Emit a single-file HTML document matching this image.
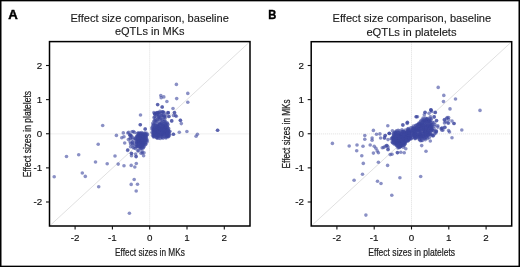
<!DOCTYPE html>
<html><head><meta charset="utf-8"><style>
html,body{margin:0;padding:0;background:#fff;width:520px;height:267px;overflow:hidden}
svg{display:block;font-family:"Liberation Sans", sans-serif;will-change:transform}
</style></head><body>
<svg width="520" height="267" viewBox="0 0 520 267">
<rect x="0" y="0" width="520" height="267" fill="#fff"/>
<line x1="149.7" y1="41.6" x2="149.7" y2="226.0" stroke="#dedede" stroke-width="1" stroke-dasharray="1,1"/>
<line x1="49.5" y1="133.9" x2="250.0" y2="133.9" stroke="#dedede" stroke-width="1" stroke-dasharray="1,1"/>
<line x1="49.5" y1="226.0" x2="250.0" y2="41.6" stroke="#dcdcdc" stroke-width="0.9"/>
<g fill="#3c469f" fill-opacity="0.6"><circle cx="176.4" cy="84.4" r="1.8"/><circle cx="187.8" cy="93.4" r="1.8"/><circle cx="176.7" cy="98.6" r="1.8"/><circle cx="187.8" cy="102.2" r="1.8"/><circle cx="160.8" cy="95.5" r="1.8"/><circle cx="163.8" cy="96.9" r="1.8"/><circle cx="161.2" cy="97.7" r="1.8"/><circle cx="166.9" cy="101.5" r="1.8"/><circle cx="157.6" cy="104.5" r="1.8"/><circle cx="162.2" cy="106.7" r="1.8"/><circle cx="173.0" cy="108.5" r="1.8"/><circle cx="154.6" cy="113.8" r="1.8"/><circle cx="158.0" cy="112.9" r="1.8"/><circle cx="168.4" cy="112.9" r="1.8"/><circle cx="174.6" cy="112.9" r="1.8"/><circle cx="168.9" cy="116.5" r="1.8"/><circle cx="168.9" cy="116.5" r="1.8"/><circle cx="175.6" cy="115.7" r="1.8"/><circle cx="176.3" cy="116.3" r="1.8"/><circle cx="171.7" cy="120.9" r="1.8"/><circle cx="171.7" cy="120.9" r="1.8"/><circle cx="180.5" cy="120.4" r="1.8"/><circle cx="181.3" cy="123.6" r="1.8"/><circle cx="179.3" cy="132.2" r="1.8"/><circle cx="186.9" cy="131.5" r="1.8"/><circle cx="173.4" cy="134.2" r="1.8"/><circle cx="173.4" cy="134.2" r="1.8"/><circle cx="197.4" cy="134.2" r="1.8"/><circle cx="196.1" cy="136.3" r="1.8"/><circle cx="217.6" cy="130.3" r="1.8"/><circle cx="217.6" cy="130.3" r="1.8"/><circle cx="140.5" cy="115.0" r="1.8"/><circle cx="140.3" cy="124.7" r="1.8"/><circle cx="140.3" cy="124.7" r="1.8"/><circle cx="145.2" cy="129.3" r="1.8"/><circle cx="102.7" cy="125.5" r="1.8"/><circle cx="116.4" cy="135.4" r="1.8"/><circle cx="123.3" cy="132.9" r="1.8"/><circle cx="128.7" cy="132.4" r="1.8"/><circle cx="133.3" cy="131.5" r="1.8"/><circle cx="124.0" cy="136.8" r="1.8"/><circle cx="121.8" cy="137.7" r="1.8"/><circle cx="130.0" cy="135.3" r="1.8"/><circle cx="130.0" cy="135.3" r="1.8"/><circle cx="124.7" cy="143.0" r="1.8"/><circle cx="127.6" cy="150.5" r="1.8"/><circle cx="131.5" cy="153.5" r="1.8"/><circle cx="131.5" cy="155.7" r="1.8"/><circle cx="136.1" cy="156.6" r="1.8"/><circle cx="136.1" cy="156.6" r="1.8"/><circle cx="142.3" cy="153.0" r="1.8"/><circle cx="143.6" cy="155.8" r="1.8"/><circle cx="138.2" cy="150.5" r="1.8"/><circle cx="115.0" cy="156.0" r="1.8"/><circle cx="98.2" cy="144.2" r="1.8"/><circle cx="66.5" cy="156.5" r="1.8"/><circle cx="78.7" cy="154.7" r="1.8"/><circle cx="95.5" cy="162.0" r="1.8"/><circle cx="107.2" cy="163.7" r="1.8"/><circle cx="118.2" cy="164.1" r="1.8"/><circle cx="82.3" cy="173.0" r="1.8"/><circle cx="85.3" cy="176.4" r="1.8"/><circle cx="54.2" cy="176.7" r="1.8"/><circle cx="124.0" cy="165.7" r="1.8"/><circle cx="131.2" cy="165.4" r="1.8"/><circle cx="136.3" cy="163.5" r="1.8"/><circle cx="134.8" cy="167.0" r="1.8"/><circle cx="134.2" cy="179.5" r="1.8"/><circle cx="131.2" cy="184.4" r="1.8"/><circle cx="137.5" cy="184.2" r="1.8"/><circle cx="136.2" cy="191.0" r="1.8"/><circle cx="98.7" cy="186.8" r="1.8"/><circle cx="129.4" cy="213.2" r="1.8"/><circle cx="162.2" cy="107.3" r="1.8"/><circle cx="154.7" cy="114.1" r="1.8"/><circle cx="168.2" cy="112.7" r="1.8"/><circle cx="180.3" cy="120.2" r="1.8"/><circle cx="138.3" cy="132.7" r="1.8"/><circle cx="141.4" cy="132.5" r="1.8"/><circle cx="142.7" cy="133.2" r="1.8"/><circle cx="144.2" cy="133.2" r="1.8"/><circle cx="145.2" cy="133.0" r="1.8"/><circle cx="146.8" cy="133.2" r="1.8"/><circle cx="138.6" cy="133.9" r="1.8"/><circle cx="139.5" cy="133.7" r="1.8"/><circle cx="140.9" cy="133.9" r="1.8"/><circle cx="142.1" cy="134.2" r="1.8"/><circle cx="144.0" cy="134.7" r="1.8"/><circle cx="145.6" cy="134.7" r="1.8"/><circle cx="147.4" cy="134.8" r="1.8"/><circle cx="136.9" cy="136.3" r="1.8"/><circle cx="138.5" cy="135.7" r="1.8"/><circle cx="139.7" cy="135.1" r="1.8"/><circle cx="141.4" cy="135.7" r="1.8"/><circle cx="142.0" cy="134.8" r="1.8"/><circle cx="144.4" cy="136.3" r="1.8"/><circle cx="144.7" cy="136.0" r="1.8"/><circle cx="146.7" cy="135.0" r="1.8"/><circle cx="136.9" cy="136.3" r="1.8"/><circle cx="138.0" cy="136.3" r="1.8"/><circle cx="139.7" cy="136.8" r="1.8"/><circle cx="141.4" cy="137.8" r="1.8"/><circle cx="142.3" cy="137.8" r="1.8"/><circle cx="143.5" cy="136.4" r="1.8"/><circle cx="145.5" cy="136.3" r="1.8"/><circle cx="146.4" cy="136.9" r="1.8"/><circle cx="135.0" cy="138.0" r="1.8"/><circle cx="135.6" cy="139.1" r="1.8"/><circle cx="137.5" cy="139.3" r="1.8"/><circle cx="140.0" cy="138.4" r="1.8"/><circle cx="140.8" cy="138.6" r="1.8"/><circle cx="142.6" cy="138.7" r="1.8"/><circle cx="143.9" cy="138.7" r="1.8"/><circle cx="146.0" cy="138.6" r="1.8"/><circle cx="146.7" cy="138.9" r="1.8"/><circle cx="137.1" cy="140.1" r="1.8"/><circle cx="137.9" cy="139.3" r="1.8"/><circle cx="139.2" cy="140.2" r="1.8"/><circle cx="140.1" cy="140.2" r="1.8"/><circle cx="142.6" cy="139.3" r="1.8"/><circle cx="144.0" cy="140.0" r="1.8"/><circle cx="145.6" cy="139.8" r="1.8"/><circle cx="147.2" cy="140.4" r="1.8"/><circle cx="136.6" cy="142.3" r="1.8"/><circle cx="137.4" cy="141.5" r="1.8"/><circle cx="139.5" cy="141.3" r="1.8"/><circle cx="140.6" cy="141.2" r="1.8"/><circle cx="142.1" cy="141.7" r="1.8"/><circle cx="143.5" cy="141.3" r="1.8"/><circle cx="145.8" cy="140.8" r="1.8"/><circle cx="147.0" cy="141.9" r="1.8"/><circle cx="136.8" cy="142.6" r="1.8"/><circle cx="137.3" cy="142.9" r="1.8"/><circle cx="139.7" cy="142.4" r="1.8"/><circle cx="140.6" cy="142.8" r="1.8"/><circle cx="142.9" cy="142.9" r="1.8"/><circle cx="144.4" cy="142.5" r="1.8"/><circle cx="145.1" cy="143.3" r="1.8"/><circle cx="136.4" cy="144.1" r="1.8"/><circle cx="138.3" cy="145.1" r="1.8"/><circle cx="138.8" cy="144.2" r="1.8"/><circle cx="141.3" cy="144.8" r="1.8"/><circle cx="142.8" cy="144.3" r="1.8"/><circle cx="143.2" cy="144.2" r="1.8"/><circle cx="145.8" cy="144.2" r="1.8"/><circle cx="137.0" cy="145.5" r="1.8"/><circle cx="137.0" cy="146.8" r="1.8"/><circle cx="139.9" cy="146.8" r="1.8"/><circle cx="140.7" cy="146.8" r="1.8"/><circle cx="143.0" cy="145.6" r="1.8"/><circle cx="144.2" cy="146.6" r="1.8"/><circle cx="138.3" cy="146.8" r="1.8"/><circle cx="140.0" cy="147.9" r="1.8"/><circle cx="141.5" cy="148.2" r="1.8"/><circle cx="143.0" cy="147.7" r="1.8"/><circle cx="143.1" cy="147.9" r="1.8"/><circle cx="140.6" cy="148.6" r="1.8"/><circle cx="137.2" cy="133.6" r="1.8"/><circle cx="139.8" cy="133.0" r="1.8"/><circle cx="139.4" cy="135.2" r="1.8"/><circle cx="139.5" cy="134.6" r="1.8"/><circle cx="141.5" cy="134.3" r="1.8"/><circle cx="143.2" cy="134.8" r="1.8"/><circle cx="145.1" cy="134.4" r="1.8"/><circle cx="138.0" cy="136.3" r="1.8"/><circle cx="140.5" cy="136.0" r="1.8"/><circle cx="141.1" cy="135.7" r="1.8"/><circle cx="143.2" cy="136.4" r="1.8"/><circle cx="145.5" cy="136.0" r="1.8"/><circle cx="137.5" cy="138.0" r="1.8"/><circle cx="138.5" cy="137.6" r="1.8"/><circle cx="140.2" cy="138.1" r="1.8"/><circle cx="141.7" cy="138.1" r="1.8"/><circle cx="143.3" cy="137.4" r="1.8"/><circle cx="145.1" cy="138.1" r="1.8"/><circle cx="138.5" cy="140.0" r="1.8"/><circle cx="140.9" cy="139.2" r="1.8"/><circle cx="142.4" cy="139.9" r="1.8"/><circle cx="143.0" cy="139.3" r="1.8"/><circle cx="144.4" cy="139.9" r="1.8"/><circle cx="139.1" cy="141.3" r="1.8"/><circle cx="140.6" cy="141.1" r="1.8"/><circle cx="141.2" cy="141.1" r="1.8"/><circle cx="142.6" cy="140.4" r="1.8"/><circle cx="145.4" cy="140.3" r="1.8"/><circle cx="139.2" cy="142.1" r="1.8"/><circle cx="139.4" cy="143.1" r="1.8"/><circle cx="141.2" cy="143.2" r="1.8"/><circle cx="143.7" cy="143.1" r="1.8"/><circle cx="145.7" cy="142.7" r="1.8"/><circle cx="139.0" cy="144.2" r="1.8"/><circle cx="140.5" cy="143.6" r="1.8"/><circle cx="142.2" cy="144.9" r="1.8"/><circle cx="142.7" cy="143.9" r="1.8"/><circle cx="145.1" cy="144.7" r="1.8"/><circle cx="138.2" cy="146.0" r="1.8"/><circle cx="140.6" cy="145.6" r="1.8"/><circle cx="141.6" cy="145.6" r="1.8"/><circle cx="143.2" cy="145.7" r="1.8"/><circle cx="131.4" cy="135.9" r="1.8"/><circle cx="132.3" cy="137.1" r="1.8"/><circle cx="130.0" cy="138.6" r="1.8"/><circle cx="132.5" cy="139.3" r="1.8"/><circle cx="135.2" cy="138.6" r="1.8"/><circle cx="130.2" cy="142.0" r="1.8"/><circle cx="132.9" cy="142.3" r="1.8"/><circle cx="135.8" cy="141.1" r="1.8"/><circle cx="130.6" cy="143.9" r="1.8"/><circle cx="132.4" cy="143.8" r="1.8"/><circle cx="135.2" cy="144.6" r="1.8"/><circle cx="130.6" cy="146.8" r="1.8"/><circle cx="133.0" cy="147.3" r="1.8"/><circle cx="136.2" cy="146.7" r="1.8"/><circle cx="135.5" cy="148.6" r="1.8"/><circle cx="127.8" cy="133.0" r="1.8"/><circle cx="130.2" cy="134.8" r="1.8"/><circle cx="132.0" cy="131.8" r="1.8"/><circle cx="134.4" cy="132.4" r="1.8"/><circle cx="128.4" cy="139.6" r="1.8"/><circle cx="130.8" cy="137.8" r="1.8"/><circle cx="132.6" cy="142.0" r="1.8"/><circle cx="127.8" cy="149.7" r="1.8"/><circle cx="131.4" cy="153.3" r="1.8"/><circle cx="135.6" cy="154.0" r="1.8"/><circle cx="141.0" cy="153.3" r="1.8"/><circle cx="144.0" cy="152.7" r="1.8"/><circle cx="145.2" cy="128.8" r="1.8"/><circle cx="133.0" cy="145.0" r="1.8"/><circle cx="134.0" cy="148.0" r="1.8"/><circle cx="138.0" cy="151.0" r="1.8"/><circle cx="142.0" cy="151.0" r="1.8"/><circle cx="157.9" cy="112.6" r="1.8"/><circle cx="159.9" cy="111.4" r="1.8"/><circle cx="163.2" cy="112.2" r="1.8"/><circle cx="167.8" cy="112.6" r="1.8"/><circle cx="174.4" cy="112.6" r="1.8"/><circle cx="173.5" cy="115.5" r="1.8"/><circle cx="157.7" cy="104.7" r="1.8"/><circle cx="162.1" cy="111.7" r="1.8"/><circle cx="162.9" cy="111.7" r="1.8"/><circle cx="153.9" cy="112.5" r="1.8"/><circle cx="156.2" cy="113.1" r="1.8"/><circle cx="157.0" cy="112.5" r="1.8"/><circle cx="159.6" cy="112.8" r="1.8"/><circle cx="161.0" cy="113.0" r="1.8"/><circle cx="164.1" cy="112.6" r="1.8"/><circle cx="155.0" cy="113.9" r="1.8"/><circle cx="156.9" cy="114.4" r="1.8"/><circle cx="158.4" cy="115.1" r="1.8"/><circle cx="159.3" cy="114.9" r="1.8"/><circle cx="161.8" cy="115.2" r="1.8"/><circle cx="162.9" cy="115.1" r="1.8"/><circle cx="165.9" cy="114.9" r="1.8"/><circle cx="154.7" cy="116.7" r="1.8"/><circle cx="156.2" cy="115.8" r="1.8"/><circle cx="158.2" cy="116.6" r="1.8"/><circle cx="159.1" cy="117.1" r="1.8"/><circle cx="161.8" cy="115.7" r="1.8"/><circle cx="164.1" cy="115.8" r="1.8"/><circle cx="164.8" cy="116.8" r="1.8"/><circle cx="154.0" cy="117.6" r="1.8"/><circle cx="155.3" cy="118.6" r="1.8"/><circle cx="158.4" cy="118.3" r="1.8"/><circle cx="160.1" cy="117.9" r="1.8"/><circle cx="161.1" cy="118.0" r="1.8"/><circle cx="164.0" cy="117.4" r="1.8"/><circle cx="165.1" cy="117.7" r="1.8"/><circle cx="154.4" cy="120.5" r="1.8"/><circle cx="155.8" cy="120.6" r="1.8"/><circle cx="157.2" cy="119.6" r="1.8"/><circle cx="159.0" cy="119.3" r="1.8"/><circle cx="162.0" cy="120.4" r="1.8"/><circle cx="162.7" cy="119.4" r="1.8"/><circle cx="164.9" cy="120.4" r="1.8"/><circle cx="154.1" cy="121.2" r="1.8"/><circle cx="156.1" cy="121.9" r="1.8"/><circle cx="157.4" cy="121.4" r="1.8"/><circle cx="160.2" cy="121.0" r="1.8"/><circle cx="162.0" cy="122.5" r="1.8"/><circle cx="164.1" cy="121.6" r="1.8"/><circle cx="165.2" cy="121.9" r="1.8"/><circle cx="167.1" cy="122.7" r="1.8"/><circle cx="152.8" cy="123.2" r="1.8"/><circle cx="154.9" cy="123.6" r="1.8"/><circle cx="160.0" cy="123.6" r="1.8"/><circle cx="161.5" cy="123.5" r="1.8"/><circle cx="162.7" cy="123.7" r="1.8"/><circle cx="164.3" cy="123.6" r="1.8"/><circle cx="167.2" cy="123.5" r="1.8"/><circle cx="158.9" cy="124.1" r="1.8"/><circle cx="160.0" cy="124.0" r="1.8"/><circle cx="165.5" cy="123.8" r="1.8"/><circle cx="153.6" cy="124.4" r="1.8"/><circle cx="155.3" cy="124.9" r="1.8"/><circle cx="157.6" cy="125.0" r="1.8"/><circle cx="158.7" cy="125.1" r="1.8"/><circle cx="160.0" cy="124.9" r="1.8"/><circle cx="162.2" cy="124.7" r="1.8"/><circle cx="162.8" cy="125.5" r="1.8"/><circle cx="165.2" cy="124.7" r="1.8"/><circle cx="166.1" cy="125.0" r="1.8"/><circle cx="168.0" cy="124.5" r="1.8"/><circle cx="152.7" cy="125.9" r="1.8"/><circle cx="153.8" cy="125.9" r="1.8"/><circle cx="155.6" cy="125.9" r="1.8"/><circle cx="156.5" cy="125.8" r="1.8"/><circle cx="158.3" cy="126.4" r="1.8"/><circle cx="159.6" cy="125.6" r="1.8"/><circle cx="161.7" cy="126.3" r="1.8"/><circle cx="163.6" cy="125.7" r="1.8"/><circle cx="164.6" cy="126.2" r="1.8"/><circle cx="165.5" cy="127.2" r="1.8"/><circle cx="167.3" cy="125.8" r="1.8"/><circle cx="152.2" cy="127.2" r="1.8"/><circle cx="154.7" cy="127.5" r="1.8"/><circle cx="156.3" cy="127.9" r="1.8"/><circle cx="158.0" cy="127.6" r="1.8"/><circle cx="158.4" cy="127.5" r="1.8"/><circle cx="160.8" cy="128.1" r="1.8"/><circle cx="161.6" cy="127.3" r="1.8"/><circle cx="163.6" cy="128.7" r="1.8"/><circle cx="164.9" cy="127.1" r="1.8"/><circle cx="165.5" cy="127.3" r="1.8"/><circle cx="167.3" cy="127.2" r="1.8"/><circle cx="168.6" cy="128.2" r="1.8"/><circle cx="151.9" cy="128.9" r="1.8"/><circle cx="153.6" cy="129.4" r="1.8"/><circle cx="154.8" cy="130.1" r="1.8"/><circle cx="156.5" cy="128.7" r="1.8"/><circle cx="157.0" cy="129.6" r="1.8"/><circle cx="159.5" cy="128.7" r="1.8"/><circle cx="160.0" cy="130.0" r="1.8"/><circle cx="161.2" cy="129.2" r="1.8"/><circle cx="163.0" cy="129.7" r="1.8"/><circle cx="165.5" cy="128.9" r="1.8"/><circle cx="166.7" cy="129.8" r="1.8"/><circle cx="168.3" cy="129.5" r="1.8"/><circle cx="153.2" cy="130.9" r="1.8"/><circle cx="153.9" cy="130.4" r="1.8"/><circle cx="156.2" cy="131.1" r="1.8"/><circle cx="157.6" cy="130.7" r="1.8"/><circle cx="158.8" cy="130.4" r="1.8"/><circle cx="160.6" cy="130.1" r="1.8"/><circle cx="161.7" cy="131.3" r="1.8"/><circle cx="163.6" cy="130.3" r="1.8"/><circle cx="164.4" cy="131.5" r="1.8"/><circle cx="166.5" cy="131.5" r="1.8"/><circle cx="168.4" cy="130.8" r="1.8"/><circle cx="169.9" cy="131.3" r="1.8"/><circle cx="152.1" cy="132.2" r="1.8"/><circle cx="155.0" cy="131.8" r="1.8"/><circle cx="155.9" cy="131.8" r="1.8"/><circle cx="156.6" cy="132.6" r="1.8"/><circle cx="158.4" cy="131.7" r="1.8"/><circle cx="159.7" cy="132.6" r="1.8"/><circle cx="161.9" cy="131.6" r="1.8"/><circle cx="162.9" cy="133.2" r="1.8"/><circle cx="164.4" cy="132.5" r="1.8"/><circle cx="166.2" cy="132.9" r="1.8"/><circle cx="168.0" cy="132.9" r="1.8"/><circle cx="169.4" cy="131.9" r="1.8"/><circle cx="153.3" cy="133.3" r="1.8"/><circle cx="153.5" cy="134.7" r="1.8"/><circle cx="155.3" cy="134.5" r="1.8"/><circle cx="156.6" cy="133.9" r="1.8"/><circle cx="158.4" cy="134.4" r="1.8"/><circle cx="160.5" cy="134.1" r="1.8"/><circle cx="162.2" cy="134.5" r="1.8"/><circle cx="163.1" cy="134.1" r="1.8"/><circle cx="164.7" cy="133.3" r="1.8"/><circle cx="166.8" cy="134.1" r="1.8"/><circle cx="168.3" cy="133.4" r="1.8"/><circle cx="169.4" cy="133.9" r="1.8"/><circle cx="152.6" cy="135.4" r="1.8"/><circle cx="153.6" cy="135.5" r="1.8"/><circle cx="156.2" cy="135.3" r="1.8"/><circle cx="157.5" cy="135.6" r="1.8"/><circle cx="158.3" cy="135.2" r="1.8"/><circle cx="161.1" cy="135.1" r="1.8"/><circle cx="161.7" cy="134.7" r="1.8"/><circle cx="162.8" cy="134.9" r="1.8"/><circle cx="165.5" cy="135.8" r="1.8"/><circle cx="166.9" cy="136.2" r="1.8"/><circle cx="168.0" cy="136.1" r="1.8"/><circle cx="169.4" cy="135.3" r="1.8"/><circle cx="153.5" cy="136.9" r="1.8"/><circle cx="154.7" cy="136.8" r="1.8"/><circle cx="156.6" cy="137.6" r="1.8"/><circle cx="157.0" cy="137.6" r="1.8"/><circle cx="158.3" cy="136.3" r="1.8"/><circle cx="160.7" cy="136.6" r="1.8"/><circle cx="161.8" cy="137.1" r="1.8"/><circle cx="162.6" cy="137.3" r="1.8"/><circle cx="164.4" cy="136.8" r="1.8"/><circle cx="166.1" cy="137.3" r="1.8"/><circle cx="168.2" cy="136.6" r="1.8"/><circle cx="168.7" cy="136.6" r="1.8"/><circle cx="157.1" cy="137.9" r="1.8"/><circle cx="158.5" cy="138.3" r="1.8"/><circle cx="160.3" cy="138.5" r="1.8"/><circle cx="163.0" cy="138.3" r="1.8"/><circle cx="166.0" cy="138.0" r="1.8"/><circle cx="158.1" cy="126.5" r="1.8"/><circle cx="163.0" cy="126.1" r="1.8"/><circle cx="166.5" cy="126.5" r="1.8"/><circle cx="154.3" cy="127.9" r="1.8"/><circle cx="156.4" cy="128.1" r="1.8"/><circle cx="156.9" cy="127.0" r="1.8"/><circle cx="159.3" cy="128.1" r="1.8"/><circle cx="160.5" cy="128.1" r="1.8"/><circle cx="162.2" cy="127.2" r="1.8"/><circle cx="163.2" cy="126.8" r="1.8"/><circle cx="165.5" cy="128.2" r="1.8"/><circle cx="167.5" cy="127.5" r="1.8"/><circle cx="153.0" cy="129.4" r="1.8"/><circle cx="154.0" cy="129.2" r="1.8"/><circle cx="155.2" cy="128.7" r="1.8"/><circle cx="157.6" cy="130.0" r="1.8"/><circle cx="159.0" cy="129.1" r="1.8"/><circle cx="160.3" cy="129.1" r="1.8"/><circle cx="162.6" cy="129.1" r="1.8"/><circle cx="164.4" cy="128.6" r="1.8"/><circle cx="165.0" cy="129.2" r="1.8"/><circle cx="166.8" cy="129.8" r="1.8"/><circle cx="154.2" cy="130.9" r="1.8"/><circle cx="155.7" cy="130.4" r="1.8"/><circle cx="157.6" cy="131.5" r="1.8"/><circle cx="158.3" cy="131.1" r="1.8"/><circle cx="160.3" cy="130.8" r="1.8"/><circle cx="162.7" cy="131.5" r="1.8"/><circle cx="163.9" cy="130.3" r="1.8"/><circle cx="166.0" cy="130.3" r="1.8"/><circle cx="166.7" cy="131.3" r="1.8"/><circle cx="168.2" cy="130.4" r="1.8"/><circle cx="153.2" cy="133.1" r="1.8"/><circle cx="153.8" cy="132.2" r="1.8"/><circle cx="155.4" cy="131.8" r="1.8"/><circle cx="156.9" cy="133.2" r="1.8"/><circle cx="158.2" cy="132.0" r="1.8"/><circle cx="160.0" cy="131.7" r="1.8"/><circle cx="162.1" cy="132.8" r="1.8"/><circle cx="164.2" cy="132.6" r="1.8"/><circle cx="165.8" cy="131.6" r="1.8"/><circle cx="166.6" cy="133.1" r="1.8"/><circle cx="167.8" cy="132.0" r="1.8"/><circle cx="154.2" cy="133.3" r="1.8"/><circle cx="155.3" cy="134.7" r="1.8"/><circle cx="156.7" cy="134.6" r="1.8"/><circle cx="158.4" cy="134.8" r="1.8"/><circle cx="160.8" cy="134.2" r="1.8"/><circle cx="161.5" cy="133.3" r="1.8"/><circle cx="164.1" cy="133.5" r="1.8"/><circle cx="164.8" cy="134.5" r="1.8"/><circle cx="167.5" cy="133.3" r="1.8"/><circle cx="153.9" cy="136.4" r="1.8"/><circle cx="155.3" cy="135.0" r="1.8"/><circle cx="156.7" cy="135.0" r="1.8"/><circle cx="158.7" cy="136.3" r="1.8"/><circle cx="159.8" cy="135.1" r="1.8"/><circle cx="164.5" cy="135.2" r="1.8"/><circle cx="166.9" cy="135.9" r="1.8"/><circle cx="168.2" cy="134.8" r="1.8"/></g>
<rect x="49.5" y="41.6" width="200.5" height="184.4" fill="none" stroke="#000" stroke-width="1.5"/>
<line x1="75.10" y1="226.0" x2="75.10" y2="229.5" stroke="#111" stroke-width="1.1"/>
<line x1="46.0" y1="201.99" x2="49.5" y2="201.99" stroke="#111" stroke-width="1.1"/>
<text x="75.10" y="240.9" font-size="9.8" text-anchor="middle" fill="#111" stroke="#111" stroke-width="0.15">-2</text>
<text x="42.30" y="205.19" font-size="9.8" text-anchor="end" fill="#111" stroke="#111" stroke-width="0.15">-2</text>
<line x1="112.40" y1="226.0" x2="112.40" y2="229.5" stroke="#111" stroke-width="1.1"/>
<line x1="46.0" y1="167.87" x2="49.5" y2="167.87" stroke="#111" stroke-width="1.1"/>
<text x="112.40" y="240.9" font-size="9.8" text-anchor="middle" fill="#111" stroke="#111" stroke-width="0.15">-1</text>
<text x="42.30" y="171.07" font-size="9.8" text-anchor="end" fill="#111" stroke="#111" stroke-width="0.15">-1</text>
<line x1="149.70" y1="226.0" x2="149.70" y2="229.5" stroke="#111" stroke-width="1.1"/>
<line x1="46.0" y1="133.75" x2="49.5" y2="133.75" stroke="#111" stroke-width="1.1"/>
<text x="149.70" y="240.9" font-size="9.8" text-anchor="middle" fill="#111" stroke="#111" stroke-width="0.15">0</text>
<text x="42.30" y="136.95" font-size="9.8" text-anchor="end" fill="#111" stroke="#111" stroke-width="0.15">0</text>
<line x1="187.00" y1="226.0" x2="187.00" y2="229.5" stroke="#111" stroke-width="1.1"/>
<line x1="46.0" y1="99.63" x2="49.5" y2="99.63" stroke="#111" stroke-width="1.1"/>
<text x="187.00" y="240.9" font-size="9.8" text-anchor="middle" fill="#111" stroke="#111" stroke-width="0.15">1</text>
<text x="42.30" y="102.83" font-size="9.8" text-anchor="end" fill="#111" stroke="#111" stroke-width="0.15">1</text>
<line x1="224.30" y1="226.0" x2="224.30" y2="229.5" stroke="#111" stroke-width="1.1"/>
<line x1="46.0" y1="65.51" x2="49.5" y2="65.51" stroke="#111" stroke-width="1.1"/>
<text x="224.30" y="240.9" font-size="9.8" text-anchor="middle" fill="#111" stroke="#111" stroke-width="0.15">2</text>
<text x="42.30" y="68.71" font-size="9.8" text-anchor="end" fill="#111" stroke="#111" stroke-width="0.15">2</text>
<line x1="411.5" y1="41.7" x2="411.5" y2="226.0" stroke="#dedede" stroke-width="1" stroke-dasharray="1,1"/>
<line x1="311.2" y1="133.9" x2="511.7" y2="133.9" stroke="#dedede" stroke-width="1" stroke-dasharray="1,1"/>
<line x1="311.2" y1="226.0" x2="511.7" y2="41.7" stroke="#dcdcdc" stroke-width="0.9"/>
<g fill="#3c469f" fill-opacity="0.6"><circle cx="438.2" cy="87.4" r="1.8"/><circle cx="443.8" cy="95.4" r="1.8"/><circle cx="455.5" cy="99.0" r="1.8"/><circle cx="443.5" cy="101.6" r="1.8"/><circle cx="450.0" cy="108.9" r="1.8"/><circle cx="480.0" cy="110.4" r="1.8"/><circle cx="431.0" cy="110.1" r="1.8"/><circle cx="431.0" cy="110.1" r="1.8"/><circle cx="431.7" cy="111.4" r="1.8"/><circle cx="425.0" cy="112.3" r="1.8"/><circle cx="435.2" cy="112.4" r="1.8"/><circle cx="429.0" cy="113.2" r="1.8"/><circle cx="416.2" cy="116.8" r="1.8"/><circle cx="416.2" cy="116.8" r="1.8"/><circle cx="417.5" cy="116.8" r="1.8"/><circle cx="424.3" cy="114.8" r="1.8"/><circle cx="430.3" cy="116.8" r="1.8"/><circle cx="434.3" cy="116.9" r="1.8"/><circle cx="447.2" cy="117.5" r="1.8"/><circle cx="444.5" cy="119.5" r="1.8"/><circle cx="448.6" cy="119.5" r="1.8"/><circle cx="436.5" cy="120.6" r="1.8"/><circle cx="452.0" cy="121.0" r="1.8"/><circle cx="454.0" cy="123.5" r="1.8"/><circle cx="454.0" cy="123.5" r="1.8"/><circle cx="444.5" cy="122.9" r="1.8"/><circle cx="447.9" cy="122.9" r="1.8"/><circle cx="437.8" cy="125.8" r="1.8"/><circle cx="441.8" cy="128.3" r="1.8"/><circle cx="445.0" cy="127.4" r="1.8"/><circle cx="441.9" cy="130.3" r="1.8"/><circle cx="448.6" cy="130.6" r="1.8"/><circle cx="449.5" cy="132.0" r="1.8"/><circle cx="461.8" cy="130.0" r="1.8"/><circle cx="452.0" cy="137.7" r="1.8"/><circle cx="407.4" cy="122.2" r="1.8"/><circle cx="402.7" cy="124.9" r="1.8"/><circle cx="436.4" cy="131.7" r="1.8"/><circle cx="435.7" cy="133.0" r="1.8"/><circle cx="433.0" cy="135.7" r="1.8"/><circle cx="387.8" cy="125.8" r="1.8"/><circle cx="403.0" cy="125.1" r="1.8"/><circle cx="407.2" cy="123.5" r="1.8"/><circle cx="392.4" cy="130.7" r="1.8"/><circle cx="389.3" cy="133.2" r="1.8"/><circle cx="385.2" cy="135.5" r="1.8"/><circle cx="385.2" cy="135.5" r="1.8"/><circle cx="384.5" cy="137.9" r="1.8"/><circle cx="384.5" cy="137.9" r="1.8"/><circle cx="388.0" cy="139.6" r="1.8"/><circle cx="386.8" cy="145.6" r="1.8"/><circle cx="386.8" cy="145.6" r="1.8"/><circle cx="383.8" cy="147.4" r="1.8"/><circle cx="388.0" cy="149.7" r="1.8"/><circle cx="397.6" cy="152.7" r="1.8"/><circle cx="400.8" cy="152.3" r="1.8"/><circle cx="404.2" cy="152.7" r="1.8"/><circle cx="405.8" cy="148.8" r="1.8"/><circle cx="392.0" cy="154.3" r="1.8"/><circle cx="420.4" cy="140.8" r="1.8"/><circle cx="430.3" cy="141.0" r="1.8"/><circle cx="421.7" cy="145.6" r="1.8"/><circle cx="426.0" cy="151.2" r="1.8"/><circle cx="419.4" cy="139.7" r="1.8"/><circle cx="436.3" cy="130.7" r="1.8"/><circle cx="441.0" cy="128.8" r="1.8"/><circle cx="443.0" cy="130.1" r="1.8"/><circle cx="373.4" cy="130.4" r="1.8"/><circle cx="376.5" cy="134.2" r="1.8"/><circle cx="379.9" cy="133.9" r="1.8"/><circle cx="364.8" cy="135.5" r="1.8"/><circle cx="364.8" cy="139.3" r="1.8"/><circle cx="372.1" cy="138.0" r="1.8"/><circle cx="372.1" cy="140.3" r="1.8"/><circle cx="380.6" cy="138.0" r="1.8"/><circle cx="389.3" cy="133.5" r="1.8"/><circle cx="389.3" cy="133.5" r="1.8"/><circle cx="332.4" cy="143.4" r="1.8"/><circle cx="349.2" cy="146.0" r="1.8"/><circle cx="357.0" cy="145.0" r="1.8"/><circle cx="363.0" cy="146.3" r="1.8"/><circle cx="370.2" cy="145.0" r="1.8"/><circle cx="374.2" cy="146.3" r="1.8"/><circle cx="375.9" cy="148.3" r="1.8"/><circle cx="382.3" cy="147.7" r="1.8"/><circle cx="385.3" cy="146.3" r="1.8"/><circle cx="388.0" cy="147.0" r="1.8"/><circle cx="356.7" cy="150.7" r="1.8"/><circle cx="377.2" cy="150.9" r="1.8"/><circle cx="373.4" cy="153.1" r="1.8"/><circle cx="390.2" cy="154.6" r="1.8"/><circle cx="361.8" cy="155.7" r="1.8"/><circle cx="378.4" cy="152.8" r="1.8"/><circle cx="363.3" cy="163.4" r="1.8"/><circle cx="378.4" cy="162.3" r="1.8"/><circle cx="387.6" cy="165.4" r="1.8"/><circle cx="362.5" cy="174.2" r="1.8"/><circle cx="354.1" cy="180.3" r="1.8"/><circle cx="377.5" cy="181.2" r="1.8"/><circle cx="381.0" cy="183.5" r="1.8"/><circle cx="391.8" cy="195.2" r="1.8"/><circle cx="365.9" cy="215.1" r="1.8"/><circle cx="399.9" cy="177.7" r="1.8"/><circle cx="420.7" cy="176.5" r="1.8"/><circle cx="397.3" cy="152.6" r="1.8"/><circle cx="388.1" cy="149.2" r="1.8"/><circle cx="430.8" cy="109.9" r="1.8"/><circle cx="425.1" cy="112.5" r="1.8"/><circle cx="435.3" cy="112.5" r="1.8"/><circle cx="434.0" cy="116.9" r="1.8"/><circle cx="436.6" cy="120.7" r="1.8"/><circle cx="407.3" cy="122.6" r="1.8"/><circle cx="437.8" cy="127.1" r="1.8"/><circle cx="436.0" cy="131.6" r="1.8"/><circle cx="431.5" cy="127.7" r="1.8"/><circle cx="446.6" cy="118.5" r="1.8"/><circle cx="448.6" cy="117.5" r="1.8"/><circle cx="445.8" cy="121.8" r="1.8"/><circle cx="448.6" cy="123.1" r="1.8"/><circle cx="444.3" cy="120.0" r="1.8"/><circle cx="442.0" cy="128.0" r="1.8"/><circle cx="444.6" cy="127.2" r="1.8"/><circle cx="402.0" cy="129.7" r="1.8"/><circle cx="408.0" cy="129.8" r="1.8"/><circle cx="396.5" cy="130.7" r="1.8"/><circle cx="398.1" cy="130.4" r="1.8"/><circle cx="399.6" cy="130.9" r="1.8"/><circle cx="402.1" cy="131.4" r="1.8"/><circle cx="403.4" cy="131.2" r="1.8"/><circle cx="404.0" cy="131.5" r="1.8"/><circle cx="405.4" cy="130.1" r="1.8"/><circle cx="407.3" cy="131.1" r="1.8"/><circle cx="408.5" cy="130.9" r="1.8"/><circle cx="409.9" cy="131.4" r="1.8"/><circle cx="394.6" cy="132.2" r="1.8"/><circle cx="395.2" cy="132.4" r="1.8"/><circle cx="396.1" cy="132.1" r="1.8"/><circle cx="398.9" cy="132.6" r="1.8"/><circle cx="399.1" cy="132.8" r="1.8"/><circle cx="401.1" cy="133.0" r="1.8"/><circle cx="402.6" cy="131.7" r="1.8"/><circle cx="404.4" cy="132.8" r="1.8"/><circle cx="405.7" cy="132.8" r="1.8"/><circle cx="407.6" cy="132.0" r="1.8"/><circle cx="408.5" cy="132.2" r="1.8"/><circle cx="410.1" cy="132.0" r="1.8"/><circle cx="393.3" cy="133.5" r="1.8"/><circle cx="395.5" cy="133.1" r="1.8"/><circle cx="396.1" cy="133.4" r="1.8"/><circle cx="398.0" cy="132.9" r="1.8"/><circle cx="399.9" cy="134.4" r="1.8"/><circle cx="401.4" cy="134.1" r="1.8"/><circle cx="403.3" cy="134.2" r="1.8"/><circle cx="405.0" cy="133.6" r="1.8"/><circle cx="406.1" cy="133.1" r="1.8"/><circle cx="407.9" cy="133.5" r="1.8"/><circle cx="408.8" cy="134.3" r="1.8"/><circle cx="410.0" cy="133.2" r="1.8"/><circle cx="393.6" cy="134.4" r="1.8"/><circle cx="395.8" cy="134.7" r="1.8"/><circle cx="396.4" cy="135.0" r="1.8"/><circle cx="398.3" cy="135.1" r="1.8"/><circle cx="400.0" cy="135.4" r="1.8"/><circle cx="401.2" cy="134.5" r="1.8"/><circle cx="403.6" cy="135.5" r="1.8"/><circle cx="403.6" cy="135.1" r="1.8"/><circle cx="406.2" cy="136.0" r="1.8"/><circle cx="406.6" cy="134.4" r="1.8"/><circle cx="408.8" cy="135.1" r="1.8"/><circle cx="410.9" cy="135.7" r="1.8"/><circle cx="392.4" cy="137.3" r="1.8"/><circle cx="393.3" cy="136.5" r="1.8"/><circle cx="394.6" cy="136.9" r="1.8"/><circle cx="396.0" cy="137.4" r="1.8"/><circle cx="398.3" cy="136.8" r="1.8"/><circle cx="399.1" cy="136.3" r="1.8"/><circle cx="401.2" cy="137.3" r="1.8"/><circle cx="402.9" cy="136.3" r="1.8"/><circle cx="405.1" cy="137.0" r="1.8"/><circle cx="405.8" cy="136.2" r="1.8"/><circle cx="407.0" cy="137.3" r="1.8"/><circle cx="408.2" cy="136.7" r="1.8"/><circle cx="410.5" cy="136.5" r="1.8"/><circle cx="391.2" cy="138.8" r="1.8"/><circle cx="392.9" cy="138.6" r="1.8"/><circle cx="393.3" cy="137.5" r="1.8"/><circle cx="395.2" cy="137.9" r="1.8"/><circle cx="396.3" cy="138.8" r="1.8"/><circle cx="397.8" cy="138.7" r="1.8"/><circle cx="400.5" cy="137.6" r="1.8"/><circle cx="402.0" cy="138.0" r="1.8"/><circle cx="402.3" cy="137.7" r="1.8"/><circle cx="403.6" cy="138.2" r="1.8"/><circle cx="405.6" cy="138.8" r="1.8"/><circle cx="407.8" cy="137.5" r="1.8"/><circle cx="408.6" cy="138.0" r="1.8"/><circle cx="409.8" cy="137.8" r="1.8"/><circle cx="392.0" cy="139.1" r="1.8"/><circle cx="393.4" cy="139.6" r="1.8"/><circle cx="395.4" cy="139.3" r="1.8"/><circle cx="397.1" cy="139.2" r="1.8"/><circle cx="398.6" cy="139.9" r="1.8"/><circle cx="399.3" cy="140.1" r="1.8"/><circle cx="401.1" cy="139.8" r="1.8"/><circle cx="403.0" cy="139.9" r="1.8"/><circle cx="404.2" cy="139.0" r="1.8"/><circle cx="406.3" cy="140.3" r="1.8"/><circle cx="407.3" cy="139.8" r="1.8"/><circle cx="408.4" cy="140.3" r="1.8"/><circle cx="392.1" cy="142.0" r="1.8"/><circle cx="393.8" cy="140.7" r="1.8"/><circle cx="395.6" cy="140.9" r="1.8"/><circle cx="397.2" cy="141.3" r="1.8"/><circle cx="397.7" cy="141.2" r="1.8"/><circle cx="400.4" cy="141.2" r="1.8"/><circle cx="401.4" cy="141.8" r="1.8"/><circle cx="402.7" cy="141.2" r="1.8"/><circle cx="404.4" cy="141.7" r="1.8"/><circle cx="405.3" cy="140.5" r="1.8"/><circle cx="407.7" cy="141.3" r="1.8"/><circle cx="392.7" cy="142.4" r="1.8"/><circle cx="393.0" cy="143.0" r="1.8"/><circle cx="395.7" cy="142.5" r="1.8"/><circle cx="396.8" cy="142.8" r="1.8"/><circle cx="397.9" cy="143.0" r="1.8"/><circle cx="399.9" cy="142.5" r="1.8"/><circle cx="400.7" cy="142.8" r="1.8"/><circle cx="402.5" cy="143.1" r="1.8"/><circle cx="403.8" cy="142.5" r="1.8"/><circle cx="405.3" cy="142.5" r="1.8"/><circle cx="394.4" cy="144.2" r="1.8"/><circle cx="395.1" cy="143.5" r="1.8"/><circle cx="396.4" cy="143.9" r="1.8"/><circle cx="399.0" cy="143.6" r="1.8"/><circle cx="400.5" cy="144.2" r="1.8"/><circle cx="401.2" cy="143.8" r="1.8"/><circle cx="403.5" cy="143.7" r="1.8"/><circle cx="404.4" cy="144.2" r="1.8"/><circle cx="405.3" cy="143.7" r="1.8"/><circle cx="396.4" cy="145.7" r="1.8"/><circle cx="398.1" cy="146.3" r="1.8"/><circle cx="400.2" cy="145.7" r="1.8"/><circle cx="401.6" cy="145.6" r="1.8"/><circle cx="403.3" cy="145.3" r="1.8"/><circle cx="398.7" cy="147.2" r="1.8"/><circle cx="400.2" cy="146.6" r="1.8"/><circle cx="403.0" cy="132.4" r="1.8"/><circle cx="404.9" cy="133.0" r="1.8"/><circle cx="406.3" cy="133.2" r="1.8"/><circle cx="407.7" cy="132.7" r="1.8"/><circle cx="409.0" cy="132.1" r="1.8"/><circle cx="394.2" cy="135.1" r="1.8"/><circle cx="396.6" cy="134.6" r="1.8"/><circle cx="398.0" cy="133.8" r="1.8"/><circle cx="400.5" cy="133.9" r="1.8"/><circle cx="401.1" cy="135.2" r="1.8"/><circle cx="402.3" cy="134.4" r="1.8"/><circle cx="404.4" cy="134.0" r="1.8"/><circle cx="406.7" cy="134.3" r="1.8"/><circle cx="406.9" cy="134.4" r="1.8"/><circle cx="408.5" cy="134.7" r="1.8"/><circle cx="394.1" cy="136.3" r="1.8"/><circle cx="396.2" cy="136.0" r="1.8"/><circle cx="397.7" cy="135.7" r="1.8"/><circle cx="399.1" cy="136.2" r="1.8"/><circle cx="400.6" cy="136.7" r="1.8"/><circle cx="402.1" cy="136.7" r="1.8"/><circle cx="404.0" cy="135.3" r="1.8"/><circle cx="406.5" cy="136.0" r="1.8"/><circle cx="408.1" cy="136.0" r="1.8"/><circle cx="409.5" cy="135.3" r="1.8"/><circle cx="395.6" cy="136.8" r="1.8"/><circle cx="395.8" cy="137.9" r="1.8"/><circle cx="398.7" cy="137.5" r="1.8"/><circle cx="400.0" cy="137.7" r="1.8"/><circle cx="401.1" cy="137.5" r="1.8"/><circle cx="403.0" cy="136.8" r="1.8"/><circle cx="404.2" cy="138.0" r="1.8"/><circle cx="405.7" cy="137.6" r="1.8"/><circle cx="407.3" cy="137.4" r="1.8"/><circle cx="409.5" cy="138.0" r="1.8"/><circle cx="394.0" cy="139.2" r="1.8"/><circle cx="394.4" cy="138.9" r="1.8"/><circle cx="395.8" cy="138.8" r="1.8"/><circle cx="398.2" cy="139.4" r="1.8"/><circle cx="399.3" cy="138.7" r="1.8"/><circle cx="400.6" cy="138.7" r="1.8"/><circle cx="402.9" cy="138.8" r="1.8"/><circle cx="405.1" cy="139.3" r="1.8"/><circle cx="405.8" cy="139.1" r="1.8"/><circle cx="406.9" cy="139.6" r="1.8"/><circle cx="409.7" cy="139.0" r="1.8"/><circle cx="393.6" cy="140.4" r="1.8"/><circle cx="394.4" cy="140.4" r="1.8"/><circle cx="396.0" cy="141.0" r="1.8"/><circle cx="398.3" cy="141.2" r="1.8"/><circle cx="399.0" cy="141.2" r="1.8"/><circle cx="401.2" cy="140.6" r="1.8"/><circle cx="402.9" cy="140.7" r="1.8"/><circle cx="404.0" cy="140.6" r="1.8"/><circle cx="406.3" cy="141.1" r="1.8"/><circle cx="408.3" cy="140.3" r="1.8"/><circle cx="394.3" cy="142.8" r="1.8"/><circle cx="397.1" cy="141.8" r="1.8"/><circle cx="398.2" cy="143.1" r="1.8"/><circle cx="399.3" cy="143.0" r="1.8"/><circle cx="401.9" cy="142.3" r="1.8"/><circle cx="402.3" cy="141.9" r="1.8"/><circle cx="405.0" cy="142.3" r="1.8"/><circle cx="395.6" cy="143.6" r="1.8"/><circle cx="397.7" cy="143.6" r="1.8"/><circle cx="400.4" cy="143.6" r="1.8"/><circle cx="401.9" cy="143.7" r="1.8"/><circle cx="402.6" cy="143.5" r="1.8"/><circle cx="399.8" cy="145.0" r="1.8"/><circle cx="401.1" cy="144.9" r="1.8"/><circle cx="423.1" cy="118.0" r="1.8"/><circle cx="425.2" cy="118.0" r="1.8"/><circle cx="427.3" cy="118.5" r="1.8"/><circle cx="429.0" cy="119.0" r="1.8"/><circle cx="431.0" cy="118.8" r="1.8"/><circle cx="421.3" cy="120.2" r="1.8"/><circle cx="423.5" cy="120.9" r="1.8"/><circle cx="426.2" cy="120.6" r="1.8"/><circle cx="428.1" cy="120.4" r="1.8"/><circle cx="428.8" cy="121.1" r="1.8"/><circle cx="431.0" cy="119.4" r="1.8"/><circle cx="419.0" cy="123.0" r="1.8"/><circle cx="421.0" cy="123.0" r="1.8"/><circle cx="423.4" cy="121.5" r="1.8"/><circle cx="424.6" cy="122.6" r="1.8"/><circle cx="428.3" cy="121.9" r="1.8"/><circle cx="429.8" cy="121.7" r="1.8"/><circle cx="432.5" cy="122.4" r="1.8"/><circle cx="434.0" cy="122.8" r="1.8"/><circle cx="415.7" cy="125.5" r="1.8"/><circle cx="418.5" cy="124.5" r="1.8"/><circle cx="420.8" cy="125.1" r="1.8"/><circle cx="422.6" cy="124.4" r="1.8"/><circle cx="425.7" cy="125.2" r="1.8"/><circle cx="427.0" cy="123.8" r="1.8"/><circle cx="430.4" cy="125.1" r="1.8"/><circle cx="432.0" cy="124.5" r="1.8"/><circle cx="434.9" cy="124.5" r="1.8"/><circle cx="413.9" cy="127.8" r="1.8"/><circle cx="416.7" cy="126.8" r="1.8"/><circle cx="418.9" cy="127.1" r="1.8"/><circle cx="421.0" cy="126.9" r="1.8"/><circle cx="423.0" cy="126.9" r="1.8"/><circle cx="425.9" cy="126.3" r="1.8"/><circle cx="428.0" cy="126.5" r="1.8"/><circle cx="430.3" cy="126.0" r="1.8"/><circle cx="431.8" cy="126.8" r="1.8"/><circle cx="434.4" cy="126.3" r="1.8"/><circle cx="413.2" cy="128.4" r="1.8"/><circle cx="415.8" cy="130.0" r="1.8"/><circle cx="418.5" cy="129.2" r="1.8"/><circle cx="420.4" cy="129.4" r="1.8"/><circle cx="423.6" cy="129.4" r="1.8"/><circle cx="424.2" cy="129.0" r="1.8"/><circle cx="427.4" cy="128.2" r="1.8"/><circle cx="430.2" cy="128.7" r="1.8"/><circle cx="431.4" cy="129.3" r="1.8"/><circle cx="434.2" cy="129.1" r="1.8"/><circle cx="414.3" cy="131.0" r="1.8"/><circle cx="416.5" cy="131.0" r="1.8"/><circle cx="417.6" cy="130.4" r="1.8"/><circle cx="420.1" cy="130.5" r="1.8"/><circle cx="423.7" cy="131.4" r="1.8"/><circle cx="424.7" cy="131.7" r="1.8"/><circle cx="427.7" cy="130.4" r="1.8"/><circle cx="430.1" cy="130.7" r="1.8"/><circle cx="432.8" cy="130.6" r="1.8"/><circle cx="433.6" cy="130.8" r="1.8"/><circle cx="414.0" cy="133.9" r="1.8"/><circle cx="415.5" cy="134.3" r="1.8"/><circle cx="419.3" cy="134.3" r="1.8"/><circle cx="421.2" cy="133.7" r="1.8"/><circle cx="423.9" cy="133.0" r="1.8"/><circle cx="424.8" cy="132.7" r="1.8"/><circle cx="426.8" cy="134.1" r="1.8"/><circle cx="428.8" cy="134.0" r="1.8"/><circle cx="431.6" cy="134.2" r="1.8"/><circle cx="434.5" cy="133.9" r="1.8"/><circle cx="414.0" cy="136.0" r="1.8"/><circle cx="417.1" cy="136.2" r="1.8"/><circle cx="419.4" cy="136.1" r="1.8"/><circle cx="420.5" cy="135.7" r="1.8"/><circle cx="423.5" cy="136.3" r="1.8"/><circle cx="424.9" cy="135.4" r="1.8"/><circle cx="427.6" cy="135.1" r="1.8"/><circle cx="430.4" cy="134.7" r="1.8"/><circle cx="432.1" cy="135.6" r="1.8"/><circle cx="433.4" cy="135.8" r="1.8"/><circle cx="414.9" cy="138.6" r="1.8"/><circle cx="415.7" cy="138.5" r="1.8"/><circle cx="419.3" cy="138.9" r="1.8"/><circle cx="421.3" cy="137.7" r="1.8"/><circle cx="422.4" cy="138.2" r="1.8"/><circle cx="424.6" cy="138.4" r="1.8"/><circle cx="427.5" cy="138.5" r="1.8"/><circle cx="429.3" cy="137.5" r="1.8"/><circle cx="421.4" cy="140.4" r="1.8"/><circle cx="422.4" cy="140.5" r="1.8"/><circle cx="425.2" cy="139.8" r="1.8"/><circle cx="426.6" cy="118.8" r="1.8"/><circle cx="422.9" cy="119.5" r="1.8"/><circle cx="424.7" cy="120.3" r="1.8"/><circle cx="425.9" cy="120.0" r="1.8"/><circle cx="427.0" cy="119.6" r="1.8"/><circle cx="429.6" cy="120.5" r="1.8"/><circle cx="420.6" cy="121.6" r="1.8"/><circle cx="422.9" cy="121.0" r="1.8"/><circle cx="424.8" cy="120.8" r="1.8"/><circle cx="425.7" cy="120.6" r="1.8"/><circle cx="427.1" cy="121.9" r="1.8"/><circle cx="428.8" cy="120.7" r="1.8"/><circle cx="429.9" cy="121.5" r="1.8"/><circle cx="420.2" cy="123.4" r="1.8"/><circle cx="421.9" cy="123.3" r="1.8"/><circle cx="422.9" cy="123.4" r="1.8"/><circle cx="424.6" cy="122.9" r="1.8"/><circle cx="425.7" cy="122.0" r="1.8"/><circle cx="426.6" cy="122.4" r="1.8"/><circle cx="428.7" cy="122.2" r="1.8"/><circle cx="431.0" cy="122.9" r="1.8"/><circle cx="417.4" cy="124.7" r="1.8"/><circle cx="418.1" cy="124.4" r="1.8"/><circle cx="419.2" cy="123.8" r="1.8"/><circle cx="421.2" cy="124.7" r="1.8"/><circle cx="422.1" cy="125.0" r="1.8"/><circle cx="423.5" cy="125.0" r="1.8"/><circle cx="425.4" cy="124.8" r="1.8"/><circle cx="427.8" cy="125.0" r="1.8"/><circle cx="428.7" cy="124.6" r="1.8"/><circle cx="430.0" cy="124.8" r="1.8"/><circle cx="431.2" cy="124.9" r="1.8"/><circle cx="416.0" cy="125.4" r="1.8"/><circle cx="418.6" cy="126.6" r="1.8"/><circle cx="420.0" cy="126.3" r="1.8"/><circle cx="421.8" cy="126.1" r="1.8"/><circle cx="422.6" cy="125.4" r="1.8"/><circle cx="423.7" cy="125.8" r="1.8"/><circle cx="425.3" cy="126.2" r="1.8"/><circle cx="427.0" cy="125.9" r="1.8"/><circle cx="428.9" cy="126.0" r="1.8"/><circle cx="429.7" cy="125.4" r="1.8"/><circle cx="432.1" cy="125.3" r="1.8"/><circle cx="415.5" cy="128.0" r="1.8"/><circle cx="416.8" cy="127.7" r="1.8"/><circle cx="418.6" cy="126.8" r="1.8"/><circle cx="419.8" cy="127.4" r="1.8"/><circle cx="421.2" cy="127.5" r="1.8"/><circle cx="423.4" cy="127.7" r="1.8"/><circle cx="424.8" cy="126.7" r="1.8"/><circle cx="426.1" cy="127.5" r="1.8"/><circle cx="428.0" cy="126.5" r="1.8"/><circle cx="428.3" cy="128.0" r="1.8"/><circle cx="430.1" cy="127.6" r="1.8"/><circle cx="431.9" cy="127.1" r="1.8"/><circle cx="414.6" cy="128.8" r="1.8"/><circle cx="415.8" cy="128.5" r="1.8"/><circle cx="417.1" cy="128.9" r="1.8"/><circle cx="418.7" cy="129.4" r="1.8"/><circle cx="419.1" cy="129.5" r="1.8"/><circle cx="421.5" cy="128.4" r="1.8"/><circle cx="422.7" cy="128.1" r="1.8"/><circle cx="423.9" cy="129.3" r="1.8"/><circle cx="426.1" cy="129.4" r="1.8"/><circle cx="426.7" cy="128.1" r="1.8"/><circle cx="428.6" cy="128.8" r="1.8"/><circle cx="430.6" cy="128.4" r="1.8"/><circle cx="432.2" cy="128.9" r="1.8"/><circle cx="413.1" cy="130.4" r="1.8"/><circle cx="414.8" cy="129.5" r="1.8"/><circle cx="416.8" cy="130.3" r="1.8"/><circle cx="418.5" cy="130.1" r="1.8"/><circle cx="420.5" cy="130.7" r="1.8"/><circle cx="420.7" cy="129.5" r="1.8"/><circle cx="423.5" cy="130.1" r="1.8"/><circle cx="423.7" cy="129.8" r="1.8"/><circle cx="426.1" cy="129.8" r="1.8"/><circle cx="427.1" cy="130.6" r="1.8"/><circle cx="428.6" cy="130.5" r="1.8"/><circle cx="431.0" cy="130.7" r="1.8"/><circle cx="414.0" cy="131.9" r="1.8"/><circle cx="415.3" cy="132.2" r="1.8"/><circle cx="416.3" cy="132.1" r="1.8"/><circle cx="419.1" cy="131.0" r="1.8"/><circle cx="419.4" cy="132.5" r="1.8"/><circle cx="420.6" cy="132.3" r="1.8"/><circle cx="422.9" cy="131.1" r="1.8"/><circle cx="424.5" cy="131.0" r="1.8"/><circle cx="426.3" cy="131.5" r="1.8"/><circle cx="428.0" cy="132.4" r="1.8"/><circle cx="428.2" cy="131.6" r="1.8"/><circle cx="429.7" cy="132.2" r="1.8"/><circle cx="431.1" cy="131.1" r="1.8"/><circle cx="413.4" cy="133.0" r="1.8"/><circle cx="415.2" cy="133.4" r="1.8"/><circle cx="416.7" cy="134.0" r="1.8"/><circle cx="418.0" cy="133.2" r="1.8"/><circle cx="420.4" cy="132.9" r="1.8"/><circle cx="420.8" cy="133.8" r="1.8"/><circle cx="422.5" cy="133.9" r="1.8"/><circle cx="424.8" cy="133.1" r="1.8"/><circle cx="425.5" cy="132.6" r="1.8"/><circle cx="427.9" cy="133.2" r="1.8"/><circle cx="428.5" cy="132.8" r="1.8"/><circle cx="429.9" cy="133.9" r="1.8"/><circle cx="413.8" cy="134.6" r="1.8"/><circle cx="414.8" cy="135.3" r="1.8"/><circle cx="417.4" cy="134.9" r="1.8"/><circle cx="417.9" cy="135.4" r="1.8"/><circle cx="419.3" cy="134.2" r="1.8"/><circle cx="421.5" cy="135.3" r="1.8"/><circle cx="422.9" cy="134.1" r="1.8"/><circle cx="425.1" cy="134.2" r="1.8"/><circle cx="425.5" cy="135.6" r="1.8"/><circle cx="427.8" cy="135.2" r="1.8"/><circle cx="428.1" cy="135.3" r="1.8"/><circle cx="430.1" cy="134.0" r="1.8"/><circle cx="414.4" cy="136.0" r="1.8"/><circle cx="415.0" cy="136.7" r="1.8"/><circle cx="416.7" cy="137.1" r="1.8"/><circle cx="418.9" cy="136.8" r="1.8"/><circle cx="420.1" cy="135.8" r="1.8"/><circle cx="421.6" cy="136.4" r="1.8"/><circle cx="422.8" cy="136.4" r="1.8"/><circle cx="424.0" cy="135.8" r="1.8"/><circle cx="426.4" cy="136.1" r="1.8"/><circle cx="426.7" cy="137.0" r="1.8"/><circle cx="414.8" cy="137.7" r="1.8"/><circle cx="416.2" cy="137.2" r="1.8"/><circle cx="418.3" cy="137.6" r="1.8"/><circle cx="419.8" cy="137.3" r="1.8"/><circle cx="421.0" cy="137.5" r="1.8"/><circle cx="423.4" cy="137.1" r="1.8"/><circle cx="424.2" cy="138.3" r="1.8"/><circle cx="425.9" cy="137.4" r="1.8"/><circle cx="413.4" cy="126.1" r="1.8"/><circle cx="408.3" cy="128.6" r="1.8"/><circle cx="410.8" cy="127.8" r="1.8"/><circle cx="412.2" cy="127.7" r="1.8"/><circle cx="413.6" cy="128.6" r="1.8"/><circle cx="407.9" cy="129.0" r="1.8"/><circle cx="409.7" cy="129.7" r="1.8"/><circle cx="410.5" cy="130.5" r="1.8"/><circle cx="412.8" cy="129.6" r="1.8"/><circle cx="413.2" cy="129.7" r="1.8"/><circle cx="407.2" cy="131.8" r="1.8"/><circle cx="409.2" cy="131.1" r="1.8"/><circle cx="411.3" cy="131.3" r="1.8"/><circle cx="411.7" cy="131.0" r="1.8"/><circle cx="413.3" cy="131.3" r="1.8"/><circle cx="407.2" cy="132.5" r="1.8"/><circle cx="409.0" cy="133.2" r="1.8"/><circle cx="410.0" cy="133.0" r="1.8"/><circle cx="412.3" cy="133.3" r="1.8"/><circle cx="414.5" cy="132.8" r="1.8"/><circle cx="406.9" cy="134.6" r="1.8"/><circle cx="409.2" cy="134.1" r="1.8"/><circle cx="410.4" cy="135.1" r="1.8"/><circle cx="412.2" cy="134.1" r="1.8"/><circle cx="413.7" cy="134.6" r="1.8"/><circle cx="415.4" cy="134.4" r="1.8"/><circle cx="407.6" cy="136.4" r="1.8"/><circle cx="408.5" cy="136.3" r="1.8"/><circle cx="410.5" cy="137.0" r="1.8"/><circle cx="413.1" cy="135.6" r="1.8"/><circle cx="414.3" cy="136.0" r="1.8"/><circle cx="406.7" cy="138.3" r="1.8"/><circle cx="407.8" cy="138.6" r="1.8"/><circle cx="409.3" cy="138.1" r="1.8"/><circle cx="411.0" cy="138.4" r="1.8"/><circle cx="413.0" cy="137.5" r="1.8"/><circle cx="406.6" cy="140.0" r="1.8"/><circle cx="407.9" cy="139.5" r="1.8"/><circle cx="409.5" cy="138.9" r="1.8"/><circle cx="411.3" cy="138.8" r="1.8"/><circle cx="406.3" cy="140.4" r="1.8"/><circle cx="402.7" cy="142.6" r="1.8"/><circle cx="397.2" cy="144.4" r="1.8"/><circle cx="399.3" cy="144.2" r="1.8"/><circle cx="401.2" cy="144.5" r="1.8"/><circle cx="403.9" cy="143.5" r="1.8"/><circle cx="397.1" cy="145.5" r="1.8"/><circle cx="400.2" cy="146.7" r="1.8"/><circle cx="400.9" cy="146.4" r="1.8"/><circle cx="404.2" cy="145.6" r="1.8"/><circle cx="398.0" cy="148.0" r="1.8"/><circle cx="399.5" cy="147.4" r="1.8"/><circle cx="403.2" cy="147.3" r="1.8"/></g>
<rect x="311.2" y="41.7" width="200.5" height="184.3" fill="none" stroke="#000" stroke-width="1.5"/>
<line x1="336.90" y1="226.0" x2="336.90" y2="229.5" stroke="#111" stroke-width="1.1"/>
<line x1="307.7" y1="201.99" x2="311.2" y2="201.99" stroke="#111" stroke-width="1.1"/>
<text x="336.90" y="240.9" font-size="9.8" text-anchor="middle" fill="#111" stroke="#111" stroke-width="0.15">-2</text>
<text x="304.00" y="205.19" font-size="9.8" text-anchor="end" fill="#111" stroke="#111" stroke-width="0.15">-2</text>
<line x1="374.20" y1="226.0" x2="374.20" y2="229.5" stroke="#111" stroke-width="1.1"/>
<line x1="307.7" y1="167.87" x2="311.2" y2="167.87" stroke="#111" stroke-width="1.1"/>
<text x="374.20" y="240.9" font-size="9.8" text-anchor="middle" fill="#111" stroke="#111" stroke-width="0.15">-1</text>
<text x="304.00" y="171.07" font-size="9.8" text-anchor="end" fill="#111" stroke="#111" stroke-width="0.15">-1</text>
<line x1="411.50" y1="226.0" x2="411.50" y2="229.5" stroke="#111" stroke-width="1.1"/>
<line x1="307.7" y1="133.75" x2="311.2" y2="133.75" stroke="#111" stroke-width="1.1"/>
<text x="411.50" y="240.9" font-size="9.8" text-anchor="middle" fill="#111" stroke="#111" stroke-width="0.15">0</text>
<text x="304.00" y="136.95" font-size="9.8" text-anchor="end" fill="#111" stroke="#111" stroke-width="0.15">0</text>
<line x1="448.80" y1="226.0" x2="448.80" y2="229.5" stroke="#111" stroke-width="1.1"/>
<line x1="307.7" y1="99.63" x2="311.2" y2="99.63" stroke="#111" stroke-width="1.1"/>
<text x="448.80" y="240.9" font-size="9.8" text-anchor="middle" fill="#111" stroke="#111" stroke-width="0.15">1</text>
<text x="304.00" y="102.83" font-size="9.8" text-anchor="end" fill="#111" stroke="#111" stroke-width="0.15">1</text>
<line x1="486.10" y1="226.0" x2="486.10" y2="229.5" stroke="#111" stroke-width="1.1"/>
<line x1="307.7" y1="65.51" x2="311.2" y2="65.51" stroke="#111" stroke-width="1.1"/>
<text x="486.10" y="240.9" font-size="9.8" text-anchor="middle" fill="#111" stroke="#111" stroke-width="0.15">2</text>
<text x="304.00" y="68.71" font-size="9.8" text-anchor="end" fill="#111" stroke="#111" stroke-width="0.15">2</text>
<text x="70.5" y="22" font-size="10" textLength="158.3" lengthAdjust="spacingAndGlyphs" fill="#1a1a1a" stroke="#1a1a1a" stroke-width="0.12">Effect size comparison, baseline</text>
<text x="114.9" y="35.4" font-size="10" textLength="69.7" lengthAdjust="spacingAndGlyphs" fill="#1a1a1a" stroke="#1a1a1a" stroke-width="0.12">eQTLs in MKs</text>
<text x="332.6" y="22.1" font-size="10" textLength="158.6" lengthAdjust="spacingAndGlyphs" fill="#1a1a1a" stroke="#1a1a1a" stroke-width="0.12">Effect size comparison, baseline</text>
<text x="366.4" y="35.6" font-size="10" textLength="90.2" lengthAdjust="spacingAndGlyphs" fill="#1a1a1a" stroke="#1a1a1a" stroke-width="0.12">eQTLs in platelets</text>
<text x="115.1" y="256.2" font-size="10.8" textLength="69.8" lengthAdjust="spacingAndGlyphs" fill="#222" stroke="#222" stroke-width="0.22">Effect sizes in MKs</text>
<text x="368.3" y="255.9" font-size="10.8" textLength="86.8" lengthAdjust="spacingAndGlyphs" fill="#222" stroke="#222" stroke-width="0.22">Effect sizes in platelets</text>
<text transform="translate(30.6,177.3) rotate(-90)" x="0" y="0" font-size="10.8" textLength="86.3" lengthAdjust="spacingAndGlyphs" fill="#222" stroke="#222" stroke-width="0.22">Effect sizes in platelets</text>
<text transform="translate(290,168.4) rotate(-90)" x="0" y="0" font-size="10.8" textLength="69" lengthAdjust="spacingAndGlyphs" fill="#222" stroke="#222" stroke-width="0.22">Effect sizes in MKs</text>
<text x="8.2" y="19" font-size="13.2" font-weight="bold" fill="#000" stroke="#000" stroke-width="0.45">A</text>
<text transform="translate(268.3,18.7) scale(0.87,1)" font-size="12.8" font-weight="bold" fill="#000" stroke="#000" stroke-width="0.45">B</text>
<rect x="0" y="0" width="520" height="1.35" fill="#000"/>
<rect x="0" y="265.65" width="520" height="1.35" fill="#000"/>
<rect x="0" y="0" width="1.5" height="267" fill="#000"/>
<rect x="518.5" y="0" width="1.5" height="267" fill="#000"/>
</svg>
</body></html>
